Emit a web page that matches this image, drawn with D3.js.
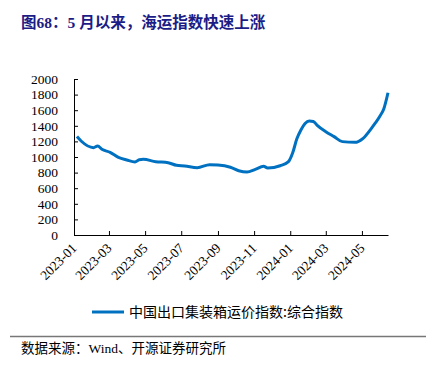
<!DOCTYPE html>
<html>
<head>
<meta charset="utf-8">
<script src="https://cdn.jsdelivr.net/npm/d3@7"></script>
<style>
  body { margin: 0; background: #fff; }
  svg { display: block; }
  .axis text { font-family: "Liberation Serif", "Times New Roman", serif; font-size: 13.5px; fill: #000; }
</style>
</head>
<body>
<div id="chart"></div>
<script>
// CCFI composite index, weekly readings
const dates = [
  "2023-01-06", "2023-01-13", "2023-02-03", "2023-02-10", "2023-02-17",
  "2023-03-03", "2023-03-17", "2023-03-31", "2023-04-14", "2023-04-21",
  "2023-04-28", "2023-05-19", "2023-06-09", "2023-06-23", "2023-07-07",
  "2023-07-28", "2023-08-18", "2023-09-01", "2023-09-22", "2023-10-06",
  "2023-10-20", "2023-11-03", "2023-11-17", "2023-11-24", "2023-12-15",
  "2023-12-29", "2024-01-05", "2024-01-12", "2024-01-19", "2024-01-26",
  "2024-02-02", "2024-02-09", "2024-02-16", "2024-03-01", "2024-03-15",
  "2024-03-29", "2024-04-19", "2024-05-03", "2024-05-17", "2024-05-24",
  "2024-05-31", "2024-06-07", "2024-06-14"
];
const values = [
  1262, 1205, 1120, 1141, 1099,
  1060, 996, 962, 936, 965,
  970, 940, 927, 893, 885,
  863, 901, 897, 868, 824,
  808, 842, 881, 859, 888,
  940, 1050, 1230, 1346, 1430,
  1462, 1455, 1402, 1325, 1261,
  1197, 1188, 1240, 1368, 1440,
  1520, 1620, 1824
];
const yTicks = [0, 200, 400, 600, 800, 1000, 1200, 1400, 1600, 1800, 2000];
const xTicks = ["2023-01", "2023-03", "2023-05", "2023-07", "2023-09", "2023-11", "2024-01", "2024-03", "2024-05"];
const seriesName = "中国出口集装箱运价指数:综合指数";
const title = "图68：5 月以来，海运指数快速上涨";
const source = "数据来源：Wind、开源证券研究所";

const W = 432, H = 372;
const margin = { left: 74, right: 44, top: 79, bottom: 137 };
const parse = d3.timeParse("%Y-%m-%d");
const parseM = d3.timeParse("%Y-%m");
const data = dates.map((d, i) => ({ date: parse(d), value: values[i] }));

const svg = d3.select("#chart").append("svg").attr("width", W).attr("height", H);

const x = d3.scaleTime()
  .domain([parse("2023-01-01"), data[data.length - 1].date])
  .range([margin.left, W - margin.right]);
const y = d3.scaleLinear().domain([0, 2000]).range([H - margin.bottom, margin.top]);

// title
svg.append("text")
  .attr("x", 21).attr("y", 28)
  .attr("font-family", "'Liberation Serif', 'Noto Sans CJK SC', serif")
  .attr("font-weight", "bold")
  .attr("font-size", 15.5)
  .attr("fill", "#1c1c86")
  .text(title);

// y axis
const yAxis = svg.append("g")
  .attr("class", "axis")
  .attr("transform", `translate(${margin.left},0)`)
  .call(d3.axisLeft(y).tickValues(yTicks).tickFormat(d3.format("d")).tickSize(-4).tickSizeOuter(0).tickPadding(16));
yAxis.select(".domain").attr("stroke", "#000");

// x axis
const xAxis = svg.append("g")
  .attr("class", "axis")
  .attr("transform", `translate(0,${H - margin.bottom})`)
  .call(d3.axisBottom(x).tickValues(xTicks.map(parseM)).tickFormat(d3.timeFormat("%Y-%m")).tickSize(-4).tickSizeOuter(0));
xAxis.select(".domain").attr("stroke", "#000");
xAxis.selectAll("text")
  .attr("text-anchor", "end")
  .attr("dy", null)
  .attr("y", 0)
  .attr("transform", "translate(3,14) rotate(-45)");

// line
const line = d3.line().x(d => x(d.date)).y(d => y(d.value)).curve(d3.curveMonotoneX);
svg.append("path")
  .datum(data)
  .attr("fill", "none")
  .attr("stroke", "#0070c0")
  .attr("stroke-width", 3)
  .attr("stroke-linejoin", "round")
  .attr("d", line);

// legend
svg.append("line")
  .attr("x1", 92).attr("x2", 124).attr("y1", 312).attr("y2", 312)
  .attr("stroke", "#0070c0").attr("stroke-width", 3);
svg.append("text")
  .attr("x", 129).attr("y", 317)
  .attr("font-family", "'Noto Sans CJK SC', sans-serif")
  .attr("font-size", 14)
  .attr("fill", "#000")
  .text(seriesName);

// separator + source
svg.append("line")
  .attr("x1", 10).attr("x2", 426).attr("y1", 336.5).attr("y2", 336.5)
  .attr("stroke", "#777").attr("stroke-width", 1.5);
svg.append("text")
  .attr("x", 21).attr("y", 353)
  .attr("font-family", "'Liberation Serif', 'Noto Sans CJK SC', serif")
  .attr("font-size", 13.5)
  .attr("fill", "#000")
  .text(source);
</script>
</body>
</html>
